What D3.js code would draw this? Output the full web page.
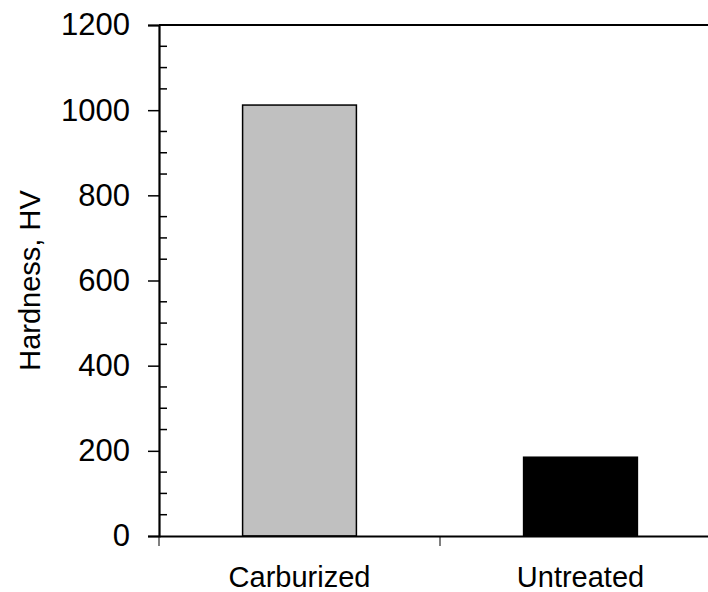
<!DOCTYPE html>
<html><head><meta charset="utf-8">
<script src="https://cdn.jsdelivr.net/npm/d3@7/dist/d3.min.js"></script>
<style>body{margin:0;background:#fff}svg{display:block}text{font-family:"Liberation Sans",Arial,sans-serif}</style>
</head><body>
<script>
const categories = ["Carburized", "Untreated"];
const values = [1012, 185];
const colors = ["#c0c0c0", "#000000"];
const yTicks = [0, 200, 400, 600, 800, 1000, 1200];
const yMinor = d3.range(0, 1201, 50);

const W = 708, H = 592;
const mLeft = 159, mRight = 721, mTop = 25, mBottom = 536;
const FS = 29, FSY = 31;
const svg = d3.select("body").append("svg").attr("width", W).attr("height", H);

const x = d3.scaleBand().domain(categories).range([mLeft, mRight]).padding(0);
const y = d3.scaleLinear().domain([0, 1200]).range([mBottom, mTop]);
const barFrac = 0.405;

// bars
svg.selectAll("rect.bar").data(categories).enter().append("rect")
  .attr("x", (d) => x(d) + x.bandwidth() * (1 - barFrac) / 2)
  .attr("width", x.bandwidth() * barFrac)
  .attr("y", (d, i) => y(values[i]))
  .attr("height", (d, i) => y(0) - y(values[i]))
  .attr("fill", (d, i) => colors[i])
  .attr("stroke", "#000").attr("stroke-width", 1.5);

// top line
svg.append("line").attr("x1", mLeft).attr("x2", W).attr("y1", y(1200)).attr("y2", y(1200))
  .attr("stroke", "#000").attr("stroke-width", 2);

// y axis
const ya = svg.append("g").attr("transform", `translate(${mLeft},0)`)
  .call(d3.axisLeft(y).tickValues(yTicks).tickSize(11).tickPadding(18).tickFormat(d3.format("d")));
ya.select(".domain").attr("stroke-width", 2.2);
ya.selectAll(".tick line").attr("stroke-width", 1.5);
ya.selectAll(".tick text").attr("font-size", FSY).attr("fill", "#000").style("font-family", '"Liberation Sans",Arial,sans-serif');
// minor ticks inside
svg.append("g").selectAll("line").data(yMinor.filter(v => v % 200 !== 0)).enter().append("line")
  .attr("x1", mLeft).attr("x2", mLeft + 8).attr("y1", d => y(d)).attr("y2", d => y(d))
  .attr("stroke", "#000").attr("stroke-width", 1.5);

// x axis
const xa = svg.append("g").attr("transform", `translate(0,${mBottom})`)
  .call(d3.axisBottom(x).tickSize(0).tickPadding(30));
xa.select(".domain").attr("stroke-width", 2);
xa.selectAll(".tick text").attr("font-size", FS).attr("fill", "#000").style("font-family", '"Liberation Sans",Arial,sans-serif');
// category boundary ticks
const bounds = [x(categories[0]), x(categories[1])];
svg.append("g").selectAll("line").data(bounds).enter().append("line")
  .attr("x1", d => d).attr("x2", d => d).attr("y1", mBottom).attr("y2", mBottom + 10)
  .attr("stroke", "#000").attr("stroke-width", 1);

// y label
svg.append("text").attr("transform", `translate(40,${(mTop + mBottom) / 2}) rotate(-90)`)
  .attr("text-anchor", "middle").attr("font-size", FS).text("Hardness, HV");
</script>
</body></html>
